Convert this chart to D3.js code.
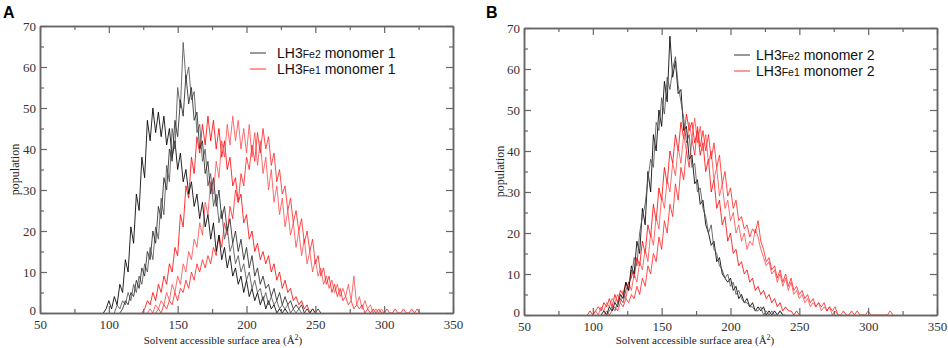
<!DOCTYPE html>
<html>
<head>
<meta charset="utf-8">
<script src="https://cdnjs.cloudflare.com/ajax/libs/d3/7.8.5/d3.min.js"></script>
<style>
  body { margin: 0; background: #fff; }
  svg { display: block; }
</style>
</head>
<body>
<svg id="sasa-svg"></svg>
<script>
// histogram bin width (Å) of every run
var xStep = 2;

// panel A, LH3 Fe2 monomer 1 (black runs)
var fe2Monomer1Start = [96, 104, 108];
var fe2Monomer1 = [
  [0,1,3,1,4,2,7,5,13,10,21,17,29,25,38,33,47,42,50,44,49,43,48,41,45,38,42,35,39,32,35,29,32,26,29,23,27,21,24,18,22,15,19,13,16,11,14,9,11,7,9,5,8,4,6,3,5,2,4,1,3,1,2,0,1,0,1,0],
  [0,2,1,3,2,5,3,7,5,9,7,12,10,16,13,21,18,28,24,36,32,45,40,55,50,66,57,60,52,54,44,46,37,40,31,34,26,29,22,25,18,21,15,17,12,14,10,12,8,10,6,8,5,6,3,5,2,4,2,3,1,2,1,2,0,1,0,1,0],
  [0,1,3,2,5,4,8,6,11,9,15,13,20,17,26,23,33,30,40,37,47,43,52,48,58,51,55,47,49,40,42,34,37,29,33,26,30,23,26,20,23,17,20,15,18,13,16,11,14,9,11,7,9,6,7,4,6,3,5,2,4,2,3,1,2,1,2,0,1,0,1,0,1,0]
];

// panel A, LH3 Fe1 monomer 1 (red runs)
var fe1Monomer1Start = [124, 128, 134];
var fe1Monomer1 = [
  [0,1,3,2,5,3,7,5,9,7,12,10,16,14,24,21,31,28,38,34,43,39,46,41,48,42,47,40,45,38,42,35,38,31,33,27,29,22,24,18,20,15,17,13,15,12,14,10,12,8,10,6,8,5,6,3,4,2,3,1,2,0,1,0],
  [0,1,0,2,1,3,2,5,3,7,5,9,7,12,10,15,13,18,16,22,19,27,24,32,29,37,33,42,38,46,41,48,42,47,40,45,39,46,38,44,36,42,34,38,30,35,27,31,24,28,21,25,19,22,16,20,14,18,12,15,10,13,9,11,7,9,6,8,5,7,4,6,4,7,3,9,2,4,1,3,1,2,0,1,0,1,0],
  [0,1,0,2,1,3,2,5,3,6,5,8,6,10,8,12,10,13,11,14,12,16,14,19,16,22,19,26,23,30,27,34,31,38,35,41,37,44,39,45,40,43,36,39,32,35,29,31,25,28,22,25,20,23,17,20,15,18,12,14,9,11,7,9,5,7,4,6,3,4,2,3,1,2,1,2,0,1,0,1,0,1,0,0,1,0,0,1,0,0,1,0,0,1,0,1,0]
];

// panel B, LH3 Fe2 monomer 2 (black runs)
var fe2Monomer2Start = [106, 110];
var fe2Monomer2 = [
  [0,1,0,2,1,3,2,5,4,8,6,12,10,18,15,26,22,35,30,44,40,50,46,57,52,68,58,62,54,55,45,46,38,39,32,33,27,28,22,20,17,18,13,14,10,9,8,9,6,7,4,5,3,4,2,3,1,2,1,2,0,1,0,1,0,1,0],
  [0,1,2,1,3,4,3,6,8,9,14,12,20,24,27,33,38,36,47,45,53,49,58,55,60,63,56,52,48,42,44,36,37,30,31,26,24,20,22,16,15,12,11,9,10,7,8,5,6,4,3,3,2,2,1,1,2,0,1,0,1,0,0,1,0,0]
];

// panel B, LH3 Fe1 monomer 2 (red runs)
var fe1Monomer2Start = [96, 100, 108];
var fe1Monomer2 = [
  [0,1,0,1,2,1,3,2,4,2,5,3,6,5,8,6,11,9,14,12,18,15,22,19,27,23,31,28,36,32,40,37,44,40,47,43,49,45,47,42,45,39,42,35,38,30,33,26,28,22,24,18,20,15,16,12,13,10,11,8,9,6,7,5,6,4,5,3,4,2,3,1,2,1,1,0,1,0],
  [0,1,0,2,1,3,2,4,3,5,3,6,4,8,6,10,8,13,11,16,13,20,17,24,21,29,26,33,30,37,34,41,37,44,40,47,43,48,42,46,40,44,37,40,33,36,29,32,26,28,23,25,20,22,18,20,16,18,17,21,19,16,14,12,13,10,11,8,10,7,9,6,8,5,6,4,5,3,4,2,3,2,3,1,2,1,2,0,1,0],
  [0,1,0,1,2,1,3,2,4,3,5,4,7,5,9,7,12,10,15,13,19,16,23,20,27,24,32,28,36,33,40,36,43,39,46,41,45,40,44,38,42,36,39,32,35,29,31,26,28,23,24,21,22,19,21,20,23,18,16,13,14,11,12,9,11,8,10,7,9,6,7,5,6,4,5,3,4,2,3,2,3,1,2,1,2,0,0,1,0,0,1,0,1,0,0,0,1,0,0,0,0,0,0,0,1,0]
];

var xMajorTicks = [50, 100, 150, 200, 250, 300, 350];
var xMinorTicks = [75, 125, 175, 225, 275, 325];
var yMajorTicks = [0, 10, 20, 30, 40, 50, 60, 70];
var yMinorTicks = [5, 15, 25, 35, 45, 55, 65];

var config = {
  svgWidth: 948,
  svgHeight: 348,
  xDomain: [50, 350],
  yDomain: [0, 70],
  frameColor: '#666',
  tickLabelColor: '#333',
  majorTick: 7,
  minorTick: 4,
  blackColors: ['#000', '#555', '#2a2a2a'],
  redColors: ['#ff0000', '#ff4a4a', '#ff2020'],
  legendFontSize: 14,
  legendRowGap: 16,
};

var panels = [
  { letter: 'A', letterX: 3, left: 40, right: 453, top: 26, bottom: 313,
    black: fe2Monomer1, blackStart: fe2Monomer1Start, red: fe1Monomer1, redStart: fe1Monomer1Start,
    legendLineX: 250, legendTextX: 277, legendY: 53, legendMonomer: 'monomer 1', yTitleX: 15, xTitleX: 223 },
  { letter: 'B', letterX: 486, left: 524, right: 937, top: 28, bottom: 315,
    black: fe2Monomer2, blackStart: fe2Monomer2Start, red: fe1Monomer2, redStart: fe1Monomer2Start,
    legendLineX: 734, legendTextX: 756, legendY: 55, legendMonomer: 'monomer 2', yTitleX: 500, xTitleX: 695 }
];

var svg = d3.select('#sasa-svg')
  .attr('width', config.svgWidth)
  .attr('height', config.svgHeight);

panels.forEach(function(p) {
  var w = p.right - p.left;
  var h = p.bottom - p.top;
  var g = svg.append('g').attr('transform', 'translate(' + p.left + ',' + p.top + ')');

  var x = d3.scaleLinear().domain(config.xDomain).range([0, w]);
  var y = d3.scaleLinear().domain(config.yDomain).range([h, 0]);

  function drawRuns(runs, starts, colors, opacity) {
    runs.forEach(function(vals, i) {
      var line = d3.line()
        .x(function(d, j) { return x(starts[i] + j * xStep); })
        .y(function(d) { return y(d); });
      g.append('path')
        .attr('d', line(vals))
        .attr('fill', 'none')
        .attr('stroke', colors[i % colors.length])
        .attr('stroke-opacity', opacity)
        .attr('stroke-width', 1)
        .attr('stroke-linejoin', 'round');
    });
  }
  drawRuns(p.red, p.redStart, config.redColors, 0.8);
  drawRuns(p.black, p.blackStart, config.blackColors, 0.85);

  // axes: ticks point inward on all four sides
  var axes = [
    { ax: d3.axisBottom(x).tickValues(xMajorTicks).tickSizeInner(-config.majorTick).tickPadding(7), t: 'translate(0,' + h + ')', labels: true },
    { ax: d3.axisBottom(x).tickValues(xMinorTicks).tickSizeInner(-config.minorTick), t: 'translate(0,' + h + ')', labels: false },
    { ax: d3.axisTop(x).tickValues(xMajorTicks).tickSizeInner(-config.majorTick), t: 'translate(0,0)', labels: false },
    { ax: d3.axisTop(x).tickValues(xMinorTicks).tickSizeInner(-config.minorTick), t: 'translate(0,0)', labels: false },
    { ax: d3.axisLeft(y).tickValues(yMajorTicks).tickSizeInner(-config.majorTick).tickPadding(4), t: 'translate(0,0)', labels: true },
    { ax: d3.axisLeft(y).tickValues(yMinorTicks).tickSizeInner(-config.minorTick), t: 'translate(0,0)', labels: false },
    { ax: d3.axisRight(y).tickValues(yMajorTicks).tickSizeInner(-config.majorTick), t: 'translate(' + w + ',0)', labels: false },
    { ax: d3.axisRight(y).tickValues(yMinorTicks).tickSizeInner(-config.minorTick), t: 'translate(' + w + ',0)', labels: false }
  ];
  axes.forEach(function(a) {
    var ag = g.append('g').attr('transform', a.t).call(a.ax.tickSizeOuter(0));
    ag.select('.domain').attr('stroke', config.frameColor).attr('stroke-width', 1.5);
    ag.selectAll('.tick line').attr('stroke', config.frameColor).attr('stroke-width', 1.2);
    if (a.labels) {
      ag.selectAll('.tick text')
        .attr('fill', config.tickLabelColor)
        .style('font-family', '"Liberation Serif", "DejaVu Serif", serif')
        .style('font-size', '13px');
    } else {
      ag.selectAll('.tick text').remove();
    }
  });
  // lift the "0" label a little so it clears the "50" below it
  g.selectAll('.tick text').filter(function(d) { return d === 0; }).attr('y', -3);

  // axis titles
  svg.append('text')
    .attr('transform', 'translate(' + p.yTitleX + ',' + (p.top + h / 2) + ') rotate(-90)')
    .attr('text-anchor', 'middle')
    .attr('dy', '0.35em')
    .style('font-family', '"Liberation Serif", serif')
    .style('font-size', '12px')
    .attr('fill', '#222')
    .text('population');

  var xt = svg.append('text')
    .attr('x', p.xTitleX)
    .attr('y', 344)
    .attr('text-anchor', 'middle')
    .style('font-family', '"Liberation Serif", serif')
    .style('font-size', '11px')
    .attr('fill', '#222');
  xt.append('tspan').text('Solvent accessible surface area (Å');
  xt.append('tspan').attr('dy', -4).style('font-size', '8px').text('2');
  xt.append('tspan').attr('dy', 4).text(')');

  // panel letter
  svg.append('text')
    .attr('x', p.letterX)
    .attr('y', 18)
    .style('font-family', '"Liberation Sans", Arial, sans-serif')
    .style('font-weight', 'bold')
    .style('font-size', '16px')
    .attr('fill', '#000')
    .text(p.letter);

  // legend
  var legendItems = [
    { sub: 'Fe2', color: '#333' },
    { sub: 'Fe1', color: '#ff3030' }
  ];
  legendItems.forEach(function(item, i) {
    var ly = p.legendY + i * config.legendRowGap;
    svg.append('line')
      .attr('x1', p.legendLineX).attr('x2', p.legendLineX + 16)
      .attr('y1', ly).attr('y2', ly)
      .attr('stroke', item.color)
      .attr('stroke-width', 1);
    var t = svg.append('text')
      .attr('x', p.legendTextX)
      .attr('y', ly + 5)
      .style('font-family', '"Liberation Sans", Arial, sans-serif')
      .style('font-size', config.legendFontSize + 'px')
      .attr('fill', '#111');
    t.append('tspan').text('LH3');
    t.append('tspan').style('font-size', '10.5px').text(item.sub);
    t.append('tspan').text(' ' + p.legendMonomer);
  });
});
</script>
</body>
</html>
